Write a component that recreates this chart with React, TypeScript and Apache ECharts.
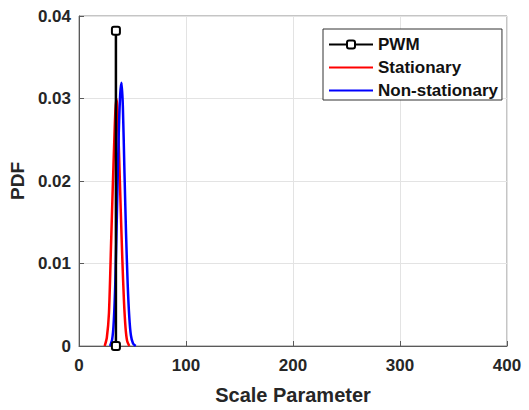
import React, { useEffect, useRef } from "react";
import * as echarts from "echarts";

const xTicks = [0, 100, 200, 300, 400];
const yTicks = [0, 0.01, 0.02, 0.03, 0.04];

const pwmX = [34.5, 34.5];
const pwmY = [0, 0.0382];

const statX = [24, 26, 28, 30, 31.5, 33, 34, 35, 36, 37.5, 39, 40.5, 42, 43.5, 45, 47];
const statY = [0, 0.001, 0.004, 0.0125, 0.019, 0.025, 0.0285, 0.030, 0.0285, 0.023, 0.0165, 0.0105, 0.0055, 0.0022, 0.0006, 0];

const nonX = [29, 31, 32.5, 34, 35.5, 37, 38.5, 39.8, 41, 42.5, 44, 45.5, 47, 48.5, 50.5, 53];
const nonY = [0, 0.0008, 0.003, 0.008, 0.0165, 0.025, 0.0305, 0.0319, 0.029, 0.021, 0.0135, 0.0075, 0.0035, 0.0013, 0.0003, 0];

const zip = (xs: number[], ys: number[]) => xs.map((x, i) => [x, ys[i]]);

export default function App() {
  const ref = useRef<HTMLDivElement>(null);
  useEffect(() => {
    if (!ref.current) return;
    const chart = echarts.init(ref.current, null, { renderer: "svg" });
    const font = "Liberation Sans, Arial, sans-serif";
    chart.setOption({
      animation: false,
      backgroundColor: "#ffffff",
      textStyle: { fontFamily: font },
      grid: {
        left: 78,
        right: 22,
        top: 16,
        bottom: 63,
        show: true,
        borderColor: "#8a8a8a",
        borderWidth: 1,
      },
      legend: {
        orient: "vertical",
        left: 323,
        top: 29,
        itemWidth: 44,
        itemHeight: 10,
        itemGap: 6,
        padding: [7, 4, 1, 5],
        borderColor: "#333333",
        borderWidth: 1,
        backgroundColor: "#ffffff",
        textStyle: { fontSize: 17, fontWeight: "bold", color: "#111111", fontFamily: font },
        data: [
          { name: "PWM" },
          { name: "Stationary", itemStyle: { opacity: 0 } },
          { name: "Non-stationary", itemStyle: { opacity: 0 } },
        ],
      },
      xAxis: {
        type: "value",
        min: xTicks[0],
        max: xTicks[xTicks.length - 1],
        interval: 100,
        name: "Scale Parameter",
        nameLocation: "middle",
        nameGap: 39,
        nameTextStyle: { fontSize: 20, fontWeight: "bold", color: "#262626", fontFamily: font },
        axisLine: { show: true, lineStyle: { color: "#5a5a5a", width: 1 } },
        axisTick: { show: true, inside: true, length: 5, lineStyle: { color: "#5a5a5a" } },
        axisLabel: { fontSize: 17, fontWeight: "bold", color: "#262626", margin: 11, fontFamily: font },
        splitLine: { show: true, lineStyle: { color: "#e3e3e3", width: 1 } },
      },
      yAxis: {
        type: "value",
        min: yTicks[0],
        max: yTicks[yTicks.length - 1],
        interval: 0.01,
        name: "PDF",
        nameLocation: "middle",
        nameGap: 52,
        nameTextStyle: { fontSize: 19, fontWeight: "bold", color: "#262626", fontFamily: font },
        axisLine: { show: true, lineStyle: { color: "#5a5a5a", width: 1 } },
        axisTick: { show: true, inside: true, length: 5, lineStyle: { color: "#5a5a5a" } },
        axisLabel: {
          fontSize: 17,
          fontWeight: "bold",
          color: "#262626",
          margin: 8,
          fontFamily: font,
          formatter: (v: number) => (v === 0 ? "0" : v.toFixed(2)),
        },
        splitLine: { show: true, lineStyle: { color: "#e3e3e3", width: 1 } },
      },
      series: [
        {
          name: "Stationary",
          type: "line",
          data: zip(statX, statY),
          showSymbol: false,
          symbol: "none",
          smooth: 0.25,
          lineStyle: { color: "#ff0000", width: 2.5 },
          itemStyle: { color: "#ff0000" },
          z: 2,
        },
        {
          name: "Non-stationary",
          type: "line",
          data: zip(nonX, nonY),
          showSymbol: false,
          symbol: "none",
          smooth: 0.25,
          lineStyle: { color: "#0000ff", width: 2.5 },
          itemStyle: { color: "#0000ff" },
          z: 3,
        },
        {
          name: "PWM",
          type: "line",
          data: zip(pwmX, pwmY),
          symbol: "roundRect",
          symbolSize: 8,
          showSymbol: true,
          lineStyle: { color: "#000000", width: 2.5 },
          itemStyle: { color: "#ffffff", borderColor: "#000000", borderWidth: 2 },
          z: 4,
        },
      ],
    });
    return () => chart.dispose();
  }, []);
  return (
    <div
      ref={ref}
      style={{ position: "fixed", left: 0, top: 0, width: 529, height: 410 }}
    />
  );
}
